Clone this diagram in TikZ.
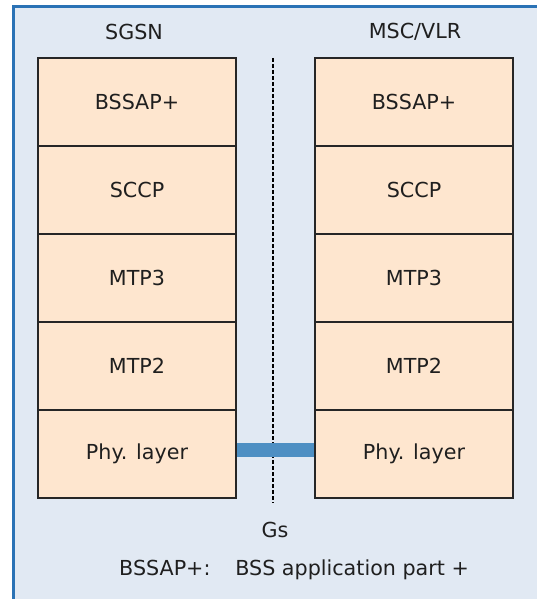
\documentclass[tikz,border=0pt]{standalone}
\usepackage{fontspec}
\setmainfont{DejaVu Sans}
\definecolor{bgblue}{HTML}{E1E9F3}
\definecolor{frameblue}{HTML}{2A72B5}
\definecolor{boxfill}{HTML}{FEE6CF}
\definecolor{linkblue}{HTML}{4D8FC3}
\begin{document}
\begin{tikzpicture}[x=0.75pt,y=-0.75pt,
  txt/.style={font=\fontsize{15.5}{18}\selectfont, text=black!88, inner sep=0pt},
  layer/.style={draw=black!85, line width=1.3pt, fill=boxfill, minimum width=148.5pt, minimum height=66pt, inner sep=0pt, font=\fontsize{15.5}{18}\selectfont, text=black!88}]
\useasboundingbox (0,0) rectangle (537,599);
\fill[bgblue] (12,5) rectangle (537,599);
\draw[frameblue, line width=2.2pt] (13.5,599) -- (13.5,6.5) -- (537,6.5);
\foreach \n/\t [count=\i from 0] in {a/BSSAP+,b/SCCP,c/MTP3,d/MTP2,e/Phy. layer}{
  \node[layer] (L\n) at (137,{102+88*\i}) {\t};
  \node[layer] (R\n) at (414,{102+88*\i}) {\t};
}
\node[txt] (sgsn) at (134,32) {SGSN};
\node[txt] (msc) at (415,32) {MSC/VLR};
\coordinate (dtop) at (273,58);
\coordinate (dbot) at (273,503);
\draw[black, line width=1pt, dash pattern=on 3pt off 1.5pt] (dtop) -- (dbot);
\fill[linkblue] (Le.east |- 0,443) rectangle (Re.west |- 0,457);
\node[txt] (gs) at (275,530) {Gs};
\node[txt] (legend) at (294,570) {BSSAP+:\hspace{1.2em}BSS application part +};
\end{tikzpicture}
\end{document}
